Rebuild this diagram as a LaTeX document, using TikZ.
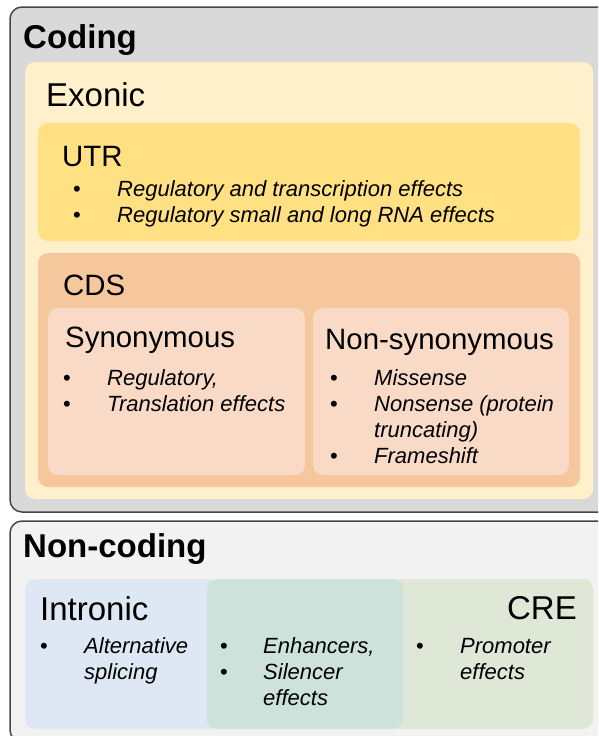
\documentclass[tikz,border=0pt]{standalone}
\usepackage{fontspec}
\setmainfont{Liberation Sans}
\definecolor{edgegrey}{HTML}{474747}
\definecolor{codingfill}{HTML}{D9D9D9}
\definecolor{noncodingfill}{HTML}{F2F2F2}
\definecolor{exonfill}{HTML}{FFF0CC}
\definecolor{utrfill}{HTML}{FFE083}
\definecolor{cdsfill}{HTML}{F6C69C}
\definecolor{subfill}{HTML}{F9DAC6}
\definecolor{intronfill}{HTML}{DEE8F4}
\definecolor{enhfill}{HTML}{CEE2DC}
\definecolor{crefill}{HTML}{DFE7D6}
\tikzset{
  panel/.style={draw=edgegrey, line width=1.5pt, rounded corners=12pt},
  region/.style={rounded corners=10pt},
  bighead/.style={anchor=base west, inner sep=0pt, font=\fontsize{33}{36}\selectfont\bfseries},
  head/.style={anchor=base west, inner sep=0pt, font=\fontsize{33}{36}\selectfont},
  subhead/.style={anchor=base west, inner sep=0pt, font=\fontsize{29.4}{32}\selectfont},
  item/.style={anchor=base west, inner sep=0pt, font=\fontsize{22}{26}\selectfont\itshape},
  dot/.style={anchor=base, inner sep=0pt, font=\fontsize{22}{26}\selectfont},
}
\begin{document}
\begin{tikzpicture}[x=1pt, y=-1pt]
\useasboundingbox (0,0) rectangle (598,736);
\clip (0,0) rectangle (598,736);

% ---- Coding panel ----
\draw[panel, fill=codingfill] (10,7) rectangle (612,512);
\node[bighead] (coding) at (23,48) {Coding};

\fill[region, exonfill] (25,62) rectangle (593,499);
\node[head] (exonic) at (46,106) {Exonic};

\fill[region, utrfill] (38,123) rectangle (580,241);
\node[subhead] (utr) at (62,166) {UTR};
\node[dot] (utrd1) at (77,196) {•};
\node[item] (utr1) at (117,196) {Regulatory and transcription effects};
\node[dot] (utrd2) at (77,222) {•};
\node[item] (utr2) at (117,222) {Regulatory small and long RNA effects};

\fill[region, cdsfill] (38,253) rectangle (580,487);
\node[subhead] (cds) at (63,295) {CDS};

\fill[region, subfill] (48,308) rectangle (305,475);
\node[subhead] (syn) at (65,347) {Synonymous};
\node[dot] (synd1) at (67,385) {•};
\node[item] (syn1) at (107,385) {Regulatory,};
\node[dot] (synd2) at (67,411) {•};
\node[item] (syn2) at (107,411) {Translation effects};

\fill[region, subfill] (313,308) rectangle (569,475);
\node[subhead] (nonsyn) at (325,349) {Non-synonymous};
\node[dot] (nsd1) at (334,385) {•};
\node[item] (ns1) at (374,385) {Missense};
\node[dot] (nsd2) at (334,411) {•};
\node[item] (ns2) at (374,411) {Nonsense (protein};
\node[item] (ns2b) at (374,437) {truncating)};
\node[dot] (nsd3) at (334,463) {•};
\node[item] (ns3) at (374,463) {Frameshift};

% ---- Non-coding panel ----
\draw[panel, fill=noncodingfill] (10,521) rectangle (612,742);
\node[bighead] (noncoding) at (23,557) {Non-coding};

\fill[region, intronfill] (25,579) rectangle (220,729);
\fill[region, crefill] (390,579) rectangle (593,729);
\fill[region, enhfill] (207,579) rectangle (403,729);

\node[head] (intronic) at (40,620) {Intronic};
\node[dot] (ind1) at (44,653) {•};
\node[item] (in1) at (84,653) {Alternative};
\node[item] (in1b) at (84,679) {splicing};

\node[dot] (end1) at (224,653) {•};
\node[item] (en1) at (263,653) {Enhancers,};
\node[dot] (end2) at (224,679) {•};
\node[item] (en2) at (263,679) {Silencer};
\node[item] (en2b) at (263,705) {effects};

\node[head, anchor=base east] (cre) at (577,619) {CRE};
\node[dot] (crd1) at (420,653) {•};
\node[item] (cr1) at (460,653) {Promoter};
\node[item] (cr1b) at (460,679) {effects};
\end{tikzpicture}
\end{document}
